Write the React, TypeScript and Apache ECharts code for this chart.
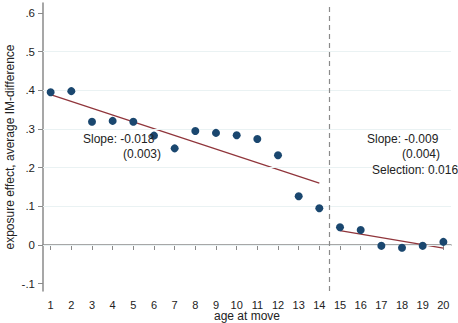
import React, { useEffect, useRef } from "react";
import * as echarts from "echarts";

const ages = [1, 2, 3, 4, 5, 6, 7, 8, 9, 10, 11, 12, 13, 14, 15, 16, 17, 18, 19, 20];
const effects = [0.395, 0.398, 0.319, 0.321, 0.319, 0.283, 0.25, 0.295, 0.29, 0.284, 0.274, 0.232, 0.126, 0.095, 0.046, 0.039, -0.002, -0.007, -0.002, 0.008];
const fitBefore = [[1, 0.389], [14, 0.16]];
const fitAfter = [[15, 0.037], [20, -0.008]];
const yTicks = [-0.1, 0, 0.1, 0.2, 0.3, 0.4, 0.5, 0.6];
const gridValues = [0, 0.1, 0.2, 0.3, 0.4, 0.5];
const cutoff = 14.5;
const notes = [
  { text: "Slope: -0.018", x: 83, y: 139 },
  { text: "(0.003)", x: 123, y: 154 },
  { text: "Slope: -0.009", x: 367, y: 139 },
  { text: "(0.004)", x: 402, y: 154 },
  { text: "Selection: 0.016", x: 372, y: 170 },
];

const FONT = "'Liberation Sans', Arial, sans-serif";
const AXIS_COLOR = "#8a8a8a";

export default function App() {
  const ref = useRef<HTMLDivElement>(null);
  useEffect(() => {
    document.body.style.margin = "0";
    if (!ref.current) return;
    const chart = echarts.init(ref.current, null, { renderer: "svg" });
    const fmt = (v: number) => {
      if (Math.abs(v) < 1e-9) return "0";
      return v.toFixed(1).replace("0.", ".");
    };
    chart.setOption({
      animation: false,
      backgroundColor: "#ffffff",
      textStyle: { fontFamily: FONT },
      grid: { left: 43, right: 7, top: 3, bottom: 32, containLabel: false, outerBoundsMode: "none" },
      xAxis: {
        type: "value",
        min: 0.63,
        max: 20.37,
        name: "age at move",
        nameLocation: "middle",
        nameGap: 19,
        nameMoveOverlap: false,
        nameTextStyle: { color: "#222", fontSize: 12, fontFamily: FONT },
        axisLine: { show: true, lineStyle: { color: AXIS_COLOR, width: 1.5 } },
        axisTick: { show: true, length: 5, lineStyle: { color: AXIS_COLOR }, customValues: ages },
        axisLabel: { color: "#222", fontSize: 11, fontFamily: FONT, margin: 8, customValues: ages, formatter: (v: number) => String(Math.round(v)) },
        splitLine: { show: false },
      },
      yAxis: {
        type: "value",
        min: -0.119,
        max: 0.626,
        name: "exposure effect, average IM-difference",
        nameLocation: "middle",
        nameGap: 27,
        nameMoveOverlap: false,
        nameRotate: 90,
        nameTextStyle: { color: "#222", fontSize: 12, fontFamily: FONT },
        axisLine: { show: true, lineStyle: { color: AXIS_COLOR, width: 1.5 } },
        axisTick: { show: true, length: 5, lineStyle: { color: AXIS_COLOR }, customValues: yTicks },
        axisLabel: { color: "#222", fontSize: 11.5, fontFamily: FONT, margin: 8, customValues: yTicks, formatter: fmt },
        splitLine: { show: false },
      },
      series: [
        {
          type: "line",
          data: [],
          silent: true,
          markLine: {
            silent: true,
            symbol: "none",
            label: { show: false },
            lineStyle: { color: "#eaf2f3", width: 1.2, type: "solid" },
            data: gridValues.map((v) => ({ yAxis: v })),
          },
        },
        {
          type: "line",
          data: [],
          silent: true,
          markLine: {
            silent: true,
            symbol: "none",
            label: { show: false },
            lineStyle: { color: "#8a8a8a", width: 1.2, type: [5, 4] },
            data: [{ xAxis: cutoff }],
          },
        },
        {
          type: "line",
          data: fitBefore,
          showSymbol: false,
          lineStyle: { color: "#90353b", width: 1.2 },
        },
        {
          type: "line",
          data: fitAfter,
          showSymbol: false,
          lineStyle: { color: "#90353b", width: 1.2 },
        },
        {
          type: "scatter",
          data: ages.map((a, i) => [a, effects[i]]),
          symbolSize: 8,
          itemStyle: { color: "#1a476f", opacity: 1 },
          z: 5,
        },
      ],
      graphic: notes.map((n) => ({
        type: "text",
        x: n.x,
        y: n.y,
        style: { text: n.text, fill: "#222", font: `12px ${FONT}`, verticalAlign: "middle" },
        z: 10,
      })),
    });
    return () => chart.dispose();
  }, []);
  return <div ref={ref} style={{ width: 458, height: 323 }} />;
}
